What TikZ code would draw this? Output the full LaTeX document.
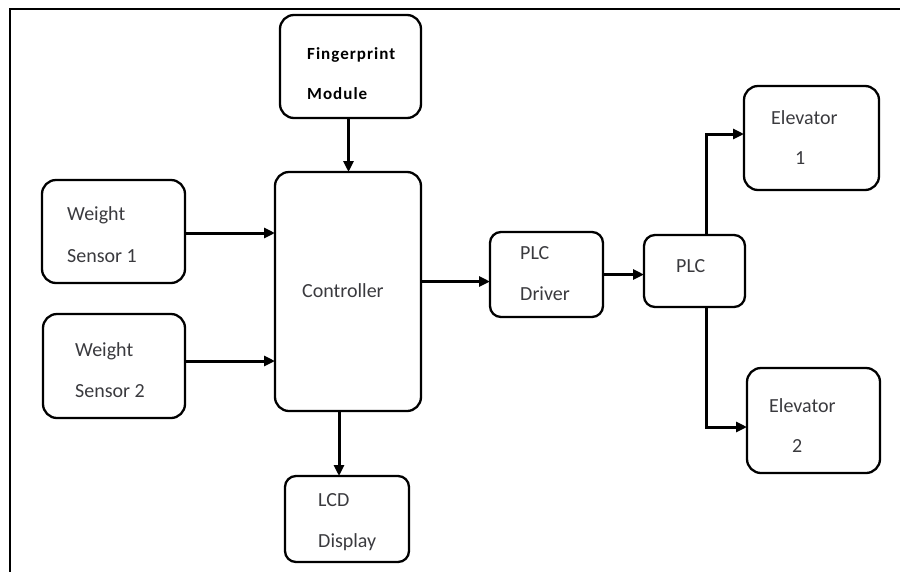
\documentclass[tikz,border=0pt]{standalone}
\usepackage{fontspec}
\setmainfont{Carlito}
\newfontfamily\fpfont[LetterSpace=6]{Carlito}
\usetikzlibrary{arrows.meta}
\definecolor{txtcol}{RGB}{58,58,62}
\tikzset{
  box/.style={draw=black, line width=2.3pt, rounded corners=14pt, rectangle, inner sep=0pt, outer sep=0pt},
  smallbox/.style={box, rounded corners=11pt},
  arr/.style={draw=black, line width=3pt, -{Triangle[length=11pt,width=10pt]}},
  lbl/.style={inner sep=0pt, anchor=base west, text=txtcol, font=\fontsize{20}{24}\selectfont},
  fplbl/.style={inner sep=0pt, anchor=base west, text=black, font=\fpfont\bfseries\fontsize{17}{20}\selectfont},
  frame/.style={draw=black, line width=2.3pt}
}
\begin{document}
\begin{tikzpicture}[x=1pt,y=-1pt]
\useasboundingbox (0,0) rectangle (900,571);
\draw[frame] (10,572) -- (10,9) -- (901,9);

% boxes
\node[box, minimum width=141pt, minimum height=103pt] (fp) at (350.5,66.5) {};
\node[box, minimum width=146pt, minimum height=239pt] (ctrl) at (348,291.5) {};
\node[box, minimum width=143pt, minimum height=103pt] (ws1) at (113.5,231.5) {};
\node[box, minimum width=142pt, minimum height=104pt] (ws2) at (114,366) {};
\node[smallbox, minimum width=124pt, minimum height=86pt] (lcd) at (347,519) {};
\node[smallbox, minimum width=113pt, minimum height=85pt] (drv) at (546.5,274.5) {};
\node[smallbox, minimum width=101pt, minimum height=72pt] (plc) at (694.5,271) {};
\node[box, minimum width=135pt, minimum height=104pt] (el1) at (811.5,138) {};
\node[box, minimum width=133pt, minimum height=105pt] (el2) at (813.5,420.5) {};

% labels
\node[fplbl] (fpa) at (307,59) {Fingerprint};
\node[fplbl] (fpb) at (307,99) {Module};
\node[lbl] (ws1a) at (67,220) {Weight};
\node[lbl] (ws1b) at (67,262) {Sensor 1};
\node[lbl] (ws2a) at (75,356) {Weight};
\node[lbl] (ws2b) at (75,397) {Sensor 2};
\node[lbl] (ctrla) at (302,297) {Controller};
\node[lbl] (lcda) at (318,506) {LCD};
\node[lbl] (lcdb) at (318,547) {Display};
\node[lbl] (drva) at (520,259) {PLC};
\node[lbl] (drvb) at (520,300) {Driver};
\node[lbl] (plca) at (676,272) {PLC};
\node[lbl] (el1a) at (771,124) {Elevator};
\node[lbl] (el1b) at (795,164) {1};
\node[lbl] (el2a) at (769,412) {Elevator};
\node[lbl] (el2b) at (792,452) {2};

% connectors
\draw[arr] ([xshift=-2pt]fp.south) -- ([xshift=-2pt]fp.south |- ctrl.north);
\draw[arr] ([yshift=-1.5pt]ws1.east) -- ([yshift=-1.5pt]ws1.east -| ctrl.west);
\draw[arr] ([yshift=5pt]ws2.east) -- ([yshift=5pt]ws2.east -| ctrl.west);
\draw[arr] ([xshift=-9pt]ctrl.south) -- ([xshift=-9pt]ctrl.south |- lcd.north);
\draw[arr] ([yshift=10pt]ctrl.east) -- ([yshift=10pt]ctrl.east -| drv.west);
\draw[arr] (drv.east) -- (drv.east -| plc.west);
\draw[arr] ([xshift=11.5pt]plc.north) |- ([yshift=4pt]el1.west);
\draw[arr] ([xshift=11.5pt]plc.south) |- ([yshift=-6.5pt]el2.west);
\end{tikzpicture}
\end{document}
